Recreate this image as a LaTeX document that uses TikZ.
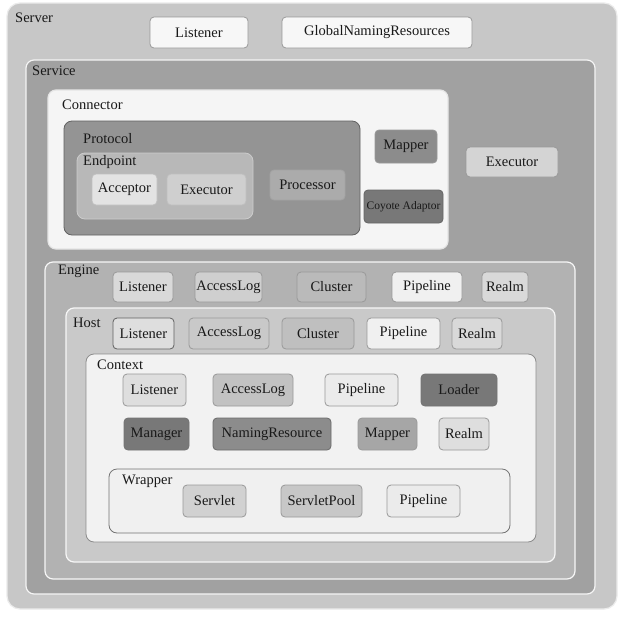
\documentclass[tikz,border=0pt]{standalone}
\usepackage{fontspec}
\setmainfont{Liberation Serif}
\tikzset{
	part/.style={draw=black!40, rounded corners=4pt, line width=0.8pt, minimum height=31pt, inner sep=0pt, text=black!90, font=\fontsize{14.5}{16}\selectfont},
	holder/.style={rounded corners=8pt, line width=1.2pt},
	tag/.style={anchor=west, inner sep=0pt, text=black!90, font=\fontsize{14.5}{16}\selectfont}
}
\begin{document}
\begin{tikzpicture}[x=1pt,y=-1pt]
	\useasboundingbox (0,0) rectangle (630,622);
	\fill[white] (0,0) rectangle (630,622);
	% server level
	\draw[holder, rounded corners=13pt, fill=black!22, draw=black!8] (7,3) rectangle (617,609);
	\node[tag] (server) at (15,18) {Server};
	\node[part, fill=black!3, minimum width=98pt] (srvlistener) at (199,32.5) {Listener};
	\node[part, fill=black!3, minimum width=190pt] (gnr) at (377,32.5) {GlobalNamingResources};
	\draw[holder, fill=black!37, draw=black!4] (26,60) rectangle (595,594);
	\node[tag] (service) at (32,71) {Service};
	\node[part, fill=black!17, minimum width=92pt, minimum height=30pt] (svcexecutor) at (512,162) {Executor};
	% connector
	\draw[holder, fill=black!4, draw=black!10] (48,90) rectangle (448,249);
	\node[tag] (connector) at (62,105) {Connector};
	\draw[holder, fill=black!42, draw=black!62, line width=0.8pt] (64,121) rectangle (360,235);
	\node[tag] (protocol) at (83,139) {Protocol};
	\draw[holder, fill=black!28, draw=black!20, line width=0.8pt] (77,153) rectangle (253,219);
	\node[tag] (endpoint) at (83,162) {Endpoint};
	\node[part, fill=black!11, draw=black!25, minimum width=65pt] (acceptor) at (124.5,189.5) {Acceptor};
	\node[part, fill=black!19, draw=black!25, minimum width=79pt] (epexecutor) at (206.5,189.5) {Executor};
	\node[part, fill=black!33, draw=black!36, minimum width=75pt, minimum height=30pt] (processor) at (307.5,185) {Processor};
	\node[part, fill=black!45, minimum width=62pt, minimum height=33pt] (conmapper) at (406,146.5) {Mapper};
	\node[part, fill=black!53, draw=black!60, minimum width=79pt, minimum height=33pt, font=\fontsize{11.5}{13}\selectfont] (coyote) at (403.5,206.5) {Coyote Adaptor};
	% engine
	\draw[holder, fill=black!30, draw=black!3] (45,262) rectangle (575,579);
	\node[tag] (engine) at (58,271) {Engine};
	\node[part, fill=black!15, minimum width=60pt, minimum height=30pt] (englistener) at (143,287) {Listener};
	\node[part, fill=black!19, minimum width=67pt, minimum height=30pt] (engaccesslog) at (228.5,287) {AccessLog};
	\node[part, fill=black!27, minimum width=69pt, minimum height=30pt] (engcluster) at (331.5,287) {Cluster};
	\node[part, fill=black!6, minimum width=70pt, minimum height=30pt] (engpipeline) at (427,287) {Pipeline};
	\node[part, fill=black!15, minimum width=46pt, minimum height=30pt] (engrealm) at (505,287) {Realm};
	% host
	\draw[holder, fill=black!21, draw=black!3] (66,308) rectangle (555,562);
	\node[tag] (host) at (73,323) {Host};
	\node[part, fill=black!13, draw=black!62, minimum width=61pt] (hostlistener) at (143.5,333.5) {Listener};
	\node[part, fill=black!21, minimum width=80pt] (hostaccesslog) at (229,333.5) {AccessLog};
	\node[part, fill=black!25, minimum width=72pt] (hostcluster) at (318,333.5) {Cluster};
	\node[part, fill=black!6, minimum width=73pt] (hostpipeline) at (403.5,333.5) {Pipeline};
	\node[part, fill=black!15, minimum width=50pt] (hostrealm) at (477,333.5) {Realm};
	% context
	\draw[holder, fill=black!5, draw=black!45, line width=0.8pt] (86,354) rectangle (536,542);
	\node[tag] (context) at (97,365) {Context};
	\node[part, fill=black!13, minimum width=63pt, minimum height=32pt] (ctxlistener) at (154.5,390) {Listener};
	\node[part, fill=black!24, minimum width=80pt, minimum height=32pt] (ctxaccesslog) at (253,390) {AccessLog};
	\node[part, fill=black!8, minimum width=73pt, minimum height=32pt] (ctxpipeline) at (361.5,390) {Pipeline};
	\node[part, fill=black!53, draw=black!55, minimum width=76pt, minimum height=32pt] (loader) at (459,390) {Loader};
	\node[part, fill=black!53, draw=black!55, minimum width=65pt, minimum height=32pt] (manager) at (156.5,434) {Manager};
	\node[part, fill=black!45, draw=black!58, minimum width=118pt, minimum height=32pt] (namingres) at (272,434) {NamingResource};
	\node[part, fill=black!35, minimum width=59pt, minimum height=32pt] (ctxmapper) at (387.5,434) {Mapper};
	\node[part, fill=black!13, minimum width=50pt, minimum height=32pt] (ctxrealm) at (464,434) {Realm};
	% wrapper
	\draw[holder, fill=black!6, draw=black!55, line width=0.8pt] (109,469) rectangle (510,533);
	\node[tag] (wrapper) at (122,481) {Wrapper};
	\node[part, fill=black!18, minimum width=63pt, minimum height=32pt] (servlet) at (214.5,501) {Servlet};
	\node[part, fill=black!22, minimum width=81pt, minimum height=32pt] (servletpool) at (321.5,501) {ServletPool};
	\node[part, fill=black!8, minimum width=73pt, minimum height=32pt] (wrppipeline) at (423.5,501) {Pipeline};
\end{tikzpicture}
\end{document}
